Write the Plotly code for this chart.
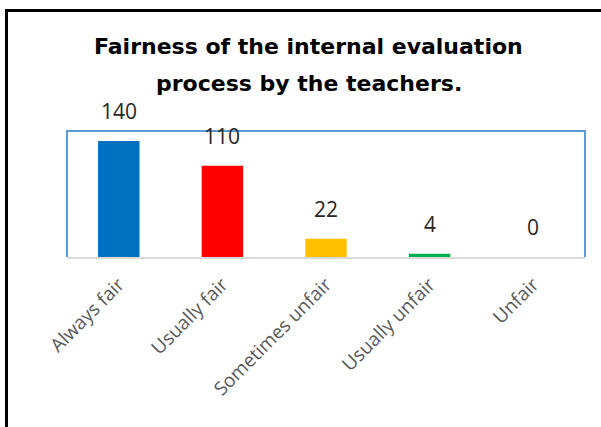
import plotly.graph_objects as go

categories = ["Always fair", "Usually fair", "Sometimes unfair", "Usually unfair", "Unfair"]
values = [140, 110, 22, 4, 0]
bar_colors = ["#0070C0", "#FF0000", "#FFC000", "#00B050", "#7030A0"]
title_lines = ["Fairness of the internal evaluation", "process by the teachers."]

W, H = 601, 427
L, R, T, B = 67, 16, 131, 170
pw, ph = W - L - R, H - T - B

def px(x):
    return (x - L) / pw

def py(y):
    return (H - B - y) / ph

fig = go.Figure()
fig.add_trace(go.Bar(
    x=categories, y=values, marker_color=bar_colors, width=0.4,
    marker_line_width=0, hoverinfo="x+y",
))

annotations = []
for c, v in zip(categories, values):
    annotations.append(dict(
        x=c, y=v, xref="x", yref="y", text=str(v), showarrow=False,
        yanchor="bottom", yshift=14,
        font=dict(family="Open Sans", size=21, color="#262626"),
    ))
for i, (line, yc) in enumerate(zip(title_lines, [46, 83])):
    annotations.append(dict(
        x=px(308.5), y=py(yc), xref="paper", yref="paper", text="<b>%s</b>" % line,
        showarrow=False, xanchor="center", yanchor="middle",
        font=dict(family="DejaVu Sans", size=22, color="#000000"),
    ))

shapes = [
    # outer black frame (top and left)
    dict(type="line", xref="paper", yref="paper", x0=px(5), x1=px(610), y0=py(10.5), y1=py(10.5),
         line=dict(color="#000000", width=3)),
    dict(type="line", xref="paper", yref="paper", x0=px(6.5), x1=px(6.5), y0=py(9), y1=py(440),
         line=dict(color="#000000", width=3)),
    # plot area border (blue)
    dict(type="path", xref="paper", yref="paper", path="M 0 0 L 0 1 L 1 1 L 1 0",
         line=dict(color="#5B9BD5", width=2), layer="above"),
]

fig.update_layout(
    width=W, height=H,
    margin=dict(l=L, r=R, t=T, b=B),
    paper_bgcolor="white", plot_bgcolor="white",
    showlegend=False,
    annotations=annotations,
    shapes=shapes,
    bargap=0.6,
    font=dict(family="Open Sans"),
)
fig.update_xaxes(
    tickangle=-45, tickfont=dict(family="Open Sans", size=19, color="#595959"),
    showline=True, linecolor="#D9D9D9", linewidth=2, ticks="", showgrid=False,
    ticklabelstandoff=7,
)
fig.update_yaxes(range=[0, 152], visible=False, showgrid=False)

fig.write_html(
    "out.html",
    config={"displayModeBar": False},
    post_script="document.body.style.margin='0';document.body.style.overflow='hidden';",
)
